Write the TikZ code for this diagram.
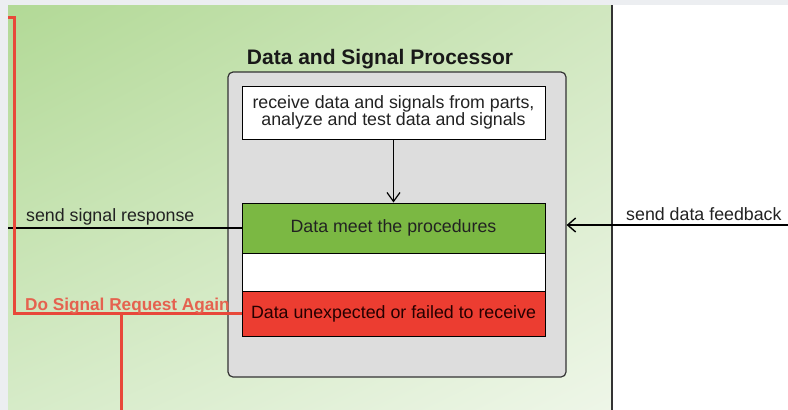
\documentclass[tikz,border=0pt]{standalone}
\usepackage{fontspec}
\setmainfont{Liberation Sans}
\usetikzlibrary{arrows.meta,shadings}
\definecolor{pagegray}{HTML}{ECEEF1}
\definecolor{gTL}{HTML}{B2D996}
\definecolor{gTR}{HTML}{D0E7BF}
\definecolor{gBL}{HTML}{D6EBC8}
\definecolor{gBR}{HTML}{EEF6E8}
\definecolor{procgray}{HTML}{DDDDDD}
\definecolor{okgreen}{HTML}{7BB843}
\definecolor{failred}{HTML}{EC3D31}
\definecolor{redline}{HTML}{E8483A}
\definecolor{redtext}{HTML}{E5624F}
\definecolor{ink}{HTML}{222222}
\tikzset{
  body/.style={font=\fontsize{17.8}{17}\selectfont, text=ink},
  stagebox/.style={draw=black, line width=1pt, minimum width=303pt, inner sep=0pt, body},
  conn/.style={draw=black, line width=1.2pt},
  redconn/.style={draw=redline, line width=3pt},
}
\begin{document}
\begin{tikzpicture}[x=1pt,y=-1pt]
\useasboundingbox (0,0) rectangle (788,410);
\fill[pagegray] (0,0) rectangle (788,410);
\fill[white] (612,5) rectangle (788,410);
\shade[upper left=gTL, upper right=gTR, lower left=gBL, lower right=gBR] (8,5) rectangle (612,410);
\coordinate (vtop) at (612,5);
\coordinate (vbot) at (612,410);
\draw[draw=black!80, line width=1.5pt] (vtop) -- (vbot);

\node[anchor=base, font=\bfseries\fontsize{21}{24}\selectfont, text=black!90] (title) at (380,64) {Data and Signal Processor};

\node[draw=black!80, line width=1.2pt, fill=procgray, rounded corners=5pt, minimum width=338pt, minimum height=305pt, inner sep=0pt] (proc) at (397,224.5) {};

\node[stagebox, fill=white, minimum height=53pt, align=center] (recv) at (393.5,112.5) {receive data and signals from parts,\\analyze and test data and signals};
\node[stagebox, fill=okgreen, minimum height=50pt] (ok) at (393.5,228) {Data meet the procedures};
\node[stagebox, fill=white, minimum height=38pt] (mid) at (393.5,272) {};
\node[stagebox, fill=failred, minimum height=45pt, text=black!85!red] (fail) at (393.5,313.5) {Data unexpected or failed to receive};

\draw[conn, -{Straight Barb[length=9pt,width=13pt,line width=1.2pt]}] (recv.south) -- (ok.north);

\coordinate (fbR) at (788,225);
\draw[conn, -{Straight Barb[length=8pt,width=14pt,line width=1.4pt]}] (fbR) -- (fbR -| proc.east);
\node[body, anchor=base west, inner sep=0pt] (fblbl) at (626,220) {send data feedback};

\coordinate (srL) at (8,228);
\draw[conn] (ok.west) -- (srL);
\node[body, anchor=base west, inner sep=0pt] (srlbl) at (26,221) {send signal response};

\coordinate (rtop) at (8,17);
\coordinate (rdown) at (121,410);
\draw[redconn] (rtop) -- ++(6,0) |- (fail.west);
\draw[redconn] (rdown) -- (rdown |- fail.west);
\node[anchor=base west, inner sep=0pt, font=\bfseries\fontsize{17.2}{20}\selectfont, text=redtext] (againlbl) at (25,310) {Do Signal Request Again};
\end{tikzpicture}
\end{document}
